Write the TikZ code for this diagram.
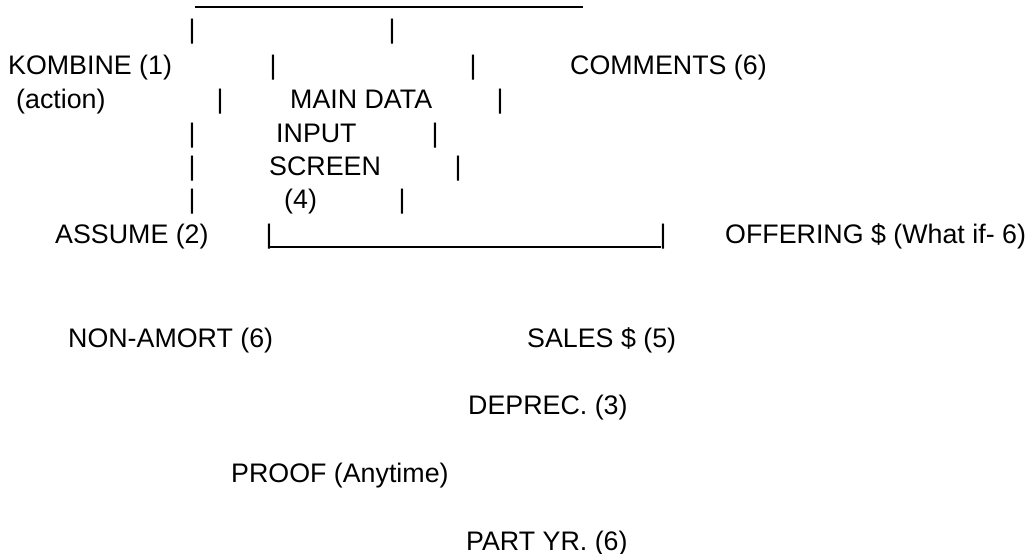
\documentclass[tikz,border=0pt]{standalone}
\usepackage{fontspec}
\setmainfont{Liberation Sans}
\usepackage{tikz}

\begin{document}
\begin{tikzpicture}[x=1pt,y=-1pt]
\pgfmathsetmacro{\fsize}{26.8}

\tikzstyle{lbl}=[anchor=base west,inner sep=0pt,font=\fontsize{\fsize}{30}\selectfont]
\tikzstyle{bar}=[anchor=base,inner sep=0pt,font=\fontsize{\fsize}{30}\selectfont]
\tikzstyle{rule}=[line width=1.8pt]
\useasboundingbox (0,0) rectangle (1029,554);

\coordinate (topL) at (195,7);
\coordinate (topR) at (583,7);
\draw[rule] (topL) -- (topR);
\node[bar] (a1) at (192,38) {|};
\node[bar] (a2) at (392,38) {|};

\node[lbl] (kombine) at (8,74) {KOMBINE (1)};
\node[bar] (b1) at (273,74) {|};
\node[bar] (b2) at (473,74) {|};
\node[lbl] (comments) at (570,74) {COMMENTS (6)};

\node[lbl] (action) at (16,108) {(action)};
\node[bar] (c1) at (220,108) {|};
\node[lbl] (maindata) at (290,108) {MAIN DATA};
\node[bar] (c2) at (500,108) {|};

\node[bar] (d1) at (192,142) {|};
\node[lbl] (input) at (276,142) {INPUT};
\node[bar] (d2) at (435,142) {|};

\node[bar] (e1) at (192,175) {|};
\node[lbl] (screen) at (269,175) {SCREEN};
\node[bar] (e2) at (458,175) {|};

\node[bar] (f1) at (192,208) {|};
\node[lbl] (four) at (284,208) {(4)};
\node[bar] (f2) at (402,208) {|};

\node[lbl] (assume) at (55,243) {ASSUME (2)};
\node[bar] (g1) at (269,243) {|};
\node[bar] (g2) at (663,243) {|};
\coordinate (botL) at (270,247);
\coordinate (botR) at (661,247);
\draw[rule] (botL) -- (botR);
\node[lbl] (offering) at (725,243) {OFFERING \$ (What if- 6)};

\node[lbl] (nonamort) at (68,347) {NON-AMORT (6)};
\node[lbl] (sales) at (527,347) {SALES \$ (5)};
\node[lbl] (deprec) at (468,414) {DEPREC. (3)};
\node[lbl] (proof) at (231,482) {PROOF (Anytime)};
\node[lbl] (partyr) at (466,550) {PART YR. (6)};
\end{tikzpicture}
\end{document}
